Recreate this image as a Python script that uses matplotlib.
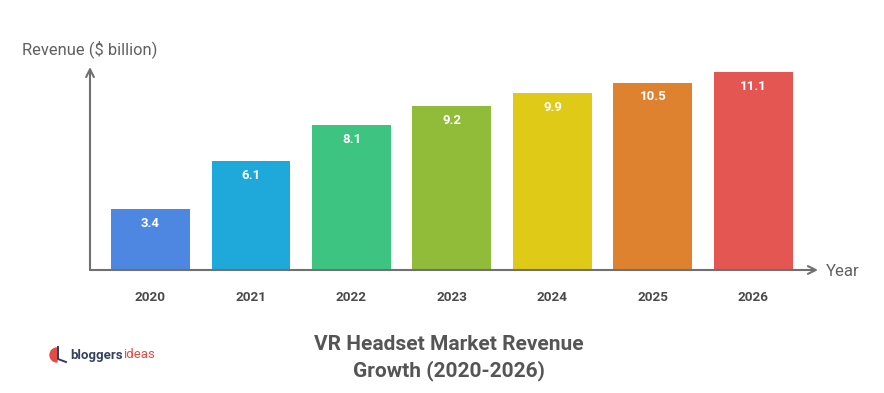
import matplotlib.pyplot as plt
from matplotlib.patches import Wedge

years = ["2020", "2021", "2022", "2023", "2024", "2025", "2026"]
revenue = [3.4, 6.1, 8.1, 9.2, 9.9, 10.5, 11.1]
bar_colors = ["#4E87E1", "#1EA9DA", "#3DC481", "#90BC3A", "#E0CA18", "#DE8230", "#E35651"]

plt.rcParams["font.family"] = ["Roboto", "DejaVu Sans"]

W, H = 884, 393
fig = plt.figure(figsize=(W / 100, H / 100), dpi=100)
# axes box in pixels: x 90..818, y 67..270 (from top)
ax = fig.add_axes([90 / W, (H - 270) / H, (818 - 90) / W, (270 - 67) / H])

x = list(range(len(years)))
ax.bar(x, revenue, width=0.786, color=bar_colors, zorder=2)
for xi, v in zip(x, revenue):
    ax.text(xi, v - 0.8, f"{v}", ha="center", va="center", color="white",
            fontsize=9.5, fontweight="bold")

ax.set_xlim(-0.602, 6.642)
ax.set_ylim(0, 11.37)
for s in ax.spines.values():
    s.set_visible(False)
ax.set_yticks([])
ax.set_xticks(x)
ax.set_xticklabels(years, fontsize=9.7, fontweight="bold", color="#4a4a4a")
ax.tick_params(axis="x", length=0, pad=15)

axis_col = "#707070"
ax.annotate("", xy=(1.0, 0), xytext=(0, 0), xycoords="axes fraction",
            arrowprops=dict(arrowstyle="->", color=axis_col, lw=1.5,
                            mutation_scale=14, shrinkA=0, shrinkB=0))
ax.annotate("", xy=(0, 1.0), xytext=(0, 0), xycoords="axes fraction",
            arrowprops=dict(arrowstyle="->", color=axis_col, lw=1.5,
                            mutation_scale=14, shrinkA=0, shrinkB=0))

fig.text(22 / W, 1 - 49 / H, "Revenue ($ billion)", ha="left", va="center",
         fontsize=11.9, color="#606060")
fig.text(826 / W, 1 - 271 / H, "Year", ha="left", va="center",
         fontsize=12, color="#606060")

fig.text(449 / W, 1 - 345 / H, "VR Headset Market Revenue", ha="center", va="center",
         fontsize=15, fontweight="bold", color="#555555")
fig.text(449 / W, 1 - 371 / H, "Growth (2020-2026)", ha="center", va="center",
         fontsize=15, fontweight="bold", color="#555555")

# small brand mark bottom-left
logo_ax = fig.add_axes([0, 0, 1, 1], facecolor="none")
logo_ax.set_xlim(0, W)
logo_ax.set_ylim(H, 0)
logo_ax.axis("off")
logo_ax.add_patch(Wedge((57, 355), 7, 90, 270, color="#E34B45"))
logo_ax.plot([58, 58, 66], [347, 359, 362], color="#2F3E5C", lw=1.4)
t1 = logo_ax.text(70, 355, "bloggers", ha="left", va="center", fontsize=9.5,
                  fontweight="bold", color="#33415E")
logo_ax.annotate("ideas", xy=(1, 0.5), xycoords=t1, ha="left", va="center",
                 fontsize=9.5, color="#E34B45")

fig.savefig("out.png", dpi=100, facecolor="white")
